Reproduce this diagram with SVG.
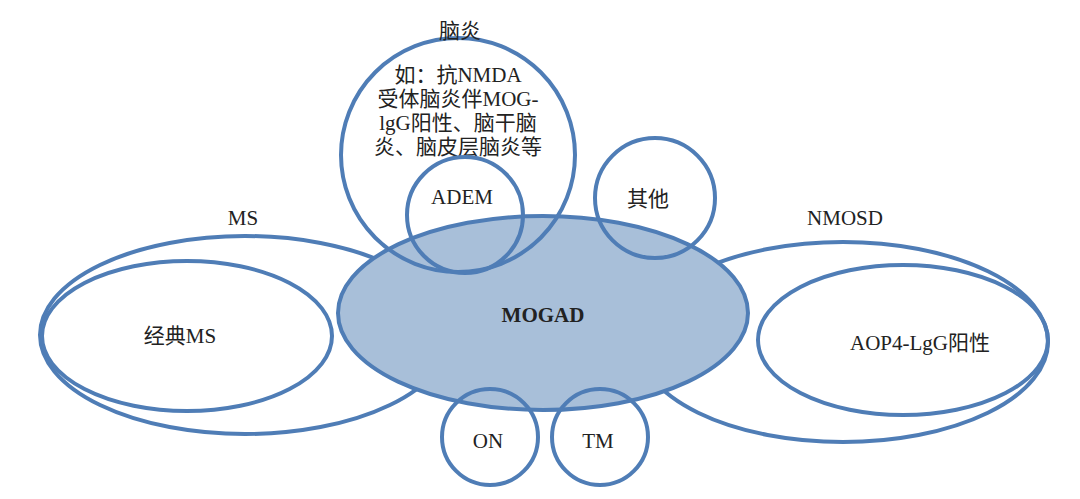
<svg xmlns="http://www.w3.org/2000/svg" width="1080" height="499" viewBox="0 0 1080 499">
<style>
.s{fill:none;stroke:#4f7db6;stroke-width:4}
text{font-family:"Liberation Serif","Noto Sans CJK SC",serif;font-size:21px;fill:#222;text-anchor:middle}
</style>
<rect width="1080" height="499" fill="#fff"/>
<g id="ms"><ellipse class="s" cx="245" cy="335" rx="205" ry="99"/><text x="243" y="225">MS</text></g>
<g id="classic-ms"><ellipse class="s" cx="187" cy="336" rx="145" ry="75"/><text x="180" y="343">经典MS</text></g>
<g id="nmosd"><ellipse class="s" cx="843" cy="342" rx="205" ry="100"/><text x="845" y="225">NMOSD</text></g>
<g id="aqp4"><ellipse class="s" cx="903" cy="340" rx="145" ry="75"/><text x="920" y="350">AOP4-LgG阳性</text></g>
<g id="mogad"><ellipse cx="543" cy="313" rx="205" ry="97" fill="#a8bfd9" stroke="#4f7db6" stroke-width="4"/><text x="543" y="322" font-weight="bold">MOGAD</text></g>
<g id="encephalitis"><circle class="s" cx="458" cy="155" r="117"/>
<text x="460" y="38">脑炎</text>
<text x="458" y="82" font-size="19">如：抗NMDA</text>
<text x="458" y="106" font-size="19">受体脑炎伴MOG-</text>
<text x="458" y="130" font-size="19">lgG阳性、脑干脑</text>
<text x="458" y="154" font-size="19">炎、脑皮层脑炎等</text></g>
<g id="adem"><circle class="s" cx="465" cy="215" r="58"/><text x="462" y="204">ADEM</text></g>
<g id="other"><circle class="s" cx="655" cy="198" r="60"/><text x="648" y="206">其他</text></g>
<g id="on"><circle class="s" cx="490" cy="437" r="48"/><text x="488" y="448">ON</text></g>
<g id="tm"><circle class="s" cx="600" cy="437" r="48"/><text x="598" y="448">TM</text></g>
<g id="connectors"></g>
</svg>
